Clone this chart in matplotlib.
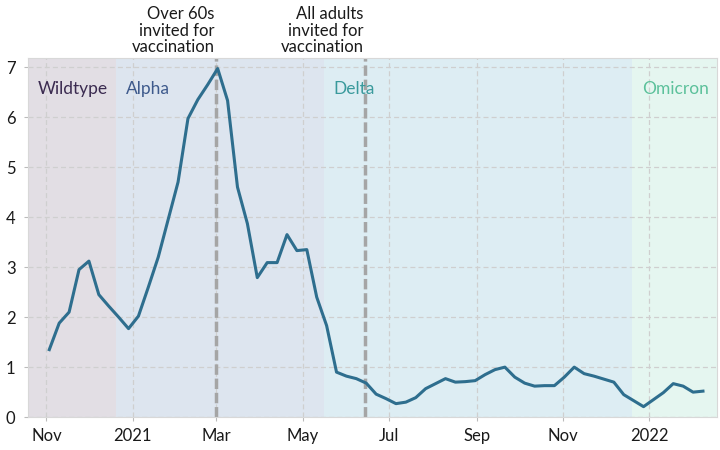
import matplotlib
matplotlib.use("Agg")
import matplotlib.pyplot as plt
import matplotlib.transforms as mtransforms
import pandas as pd

plt.rcParams['font.family'] = ['Lato', 'DejaVu Sans']

# weekly values, starting first week of Nov 2020
start = "2020-11-03"
values = [1.35, 1.88, 2.10, 2.95, 3.12, 2.45, 2.22, 2.00, 1.77, 2.02,
          2.60, 3.20, 3.95, 4.70, 5.97, 6.35, 6.65, 6.97, 6.33, 4.60,
          3.87, 2.79, 3.09, 3.09, 3.65, 3.33, 3.35, 2.40, 1.83, 0.90,
          0.82, 0.77, 0.68, 0.46, 0.37, 0.27, 0.30, 0.39, 0.57, 0.67,
          0.77, 0.70, 0.71, 0.73, 0.85, 0.95, 1.00, 0.80, 0.68, 0.62,
          0.63, 0.63, 0.80, 1.00, 0.87, 0.82, 0.76, 0.70, 0.45, 0.33,
          0.21, 0.35, 0.49, 0.67, 0.62, 0.50, 0.52]
dates = pd.date_range(start, periods=len(values), freq="7D")

x_start = pd.Timestamp("2020-10-19")
x_end = pd.Timestamp("2022-02-18")

variants = ["Wildtype", "Alpha", "Delta", "Omicron"]
variant_ends = ["2020-12-20", "2021-05-16", "2021-12-20", "2022-02-18"]
variant_fill = ["#e2dee4", "#dde5ef", "#ddedf3", "#e5f6f0"]
variant_text = ["#3b2b50", "#3e5a8c", "#3a9a9c", "#5cc19b"]

events = ["Over 60s\ninvited for\nvaccination", "All adults\ninvited for\nvaccination"]
event_dates = ["2021-03-01", "2021-06-14"]

tick_dates = ["2020-11-01", "2021-01-01", "2021-03-01", "2021-05-01",
              "2021-07-01", "2021-09-01", "2021-11-01", "2022-01-01"]
tick_labels = ["Nov", "2021", "Mar", "May", "Jul", "Sep", "Nov", "2022"]

fig = plt.figure(figsize=(7.2, 4.5), dpi=100)
ax = fig.add_axes([0.039, 0.073, 0.957, 0.798])

# variant shading + labels
left = x_start
for name, end, fc, tc in zip(variants, variant_ends, variant_fill, variant_text):
    end = pd.Timestamp(end)
    ax.axvspan(left, end, color=fc, lw=0, zorder=0)
    ax.text(left + pd.Timedelta(days=7), 6.57, name, color=tc, fontsize=12.5,
            va="center", ha="left", zorder=3)
    left = end

ax.grid(True, color="#cfcfcf", ls=(0, (4, 2.5)), lw=0.9, zorder=1)

# vaccination events
trans = mtransforms.blended_transform_factory(ax.transData, ax.transAxes)
for label, d in zip(events, event_dates):
    d = pd.Timestamp(d)
    ax.axvline(d, color="#a5a5a5", lw=2.5, ls=(0, (3, 1.1)), zorder=2)
    ax.text(d - pd.Timedelta(days=1), 1.008, label, transform=trans,
            ha="right", va="bottom", fontsize=12, color="#1a1a1a",
            linespacing=1.05)

ax.plot(dates, values, color="#2e6e8e", lw=2.2, zorder=4)

ax.set_xlim(x_start, x_end)
ax.set_ylim(0, 7.18)
ax.set_yticks(range(8))
ax.set_xticks(pd.to_datetime(tick_dates))
ax.set_xticklabels(tick_labels)
ax.tick_params(axis="both", labelsize=12, colors="#1a1a1a", length=3,
               color="#bbbbbb")
ax.tick_params(axis="y", pad=6)
ax.tick_params(axis="x", pad=5)
for s in ax.spines.values():
    s.set_color("#d8d8d8")
    s.set_linewidth(0.8)

fig.savefig("out.png", dpi=100)
